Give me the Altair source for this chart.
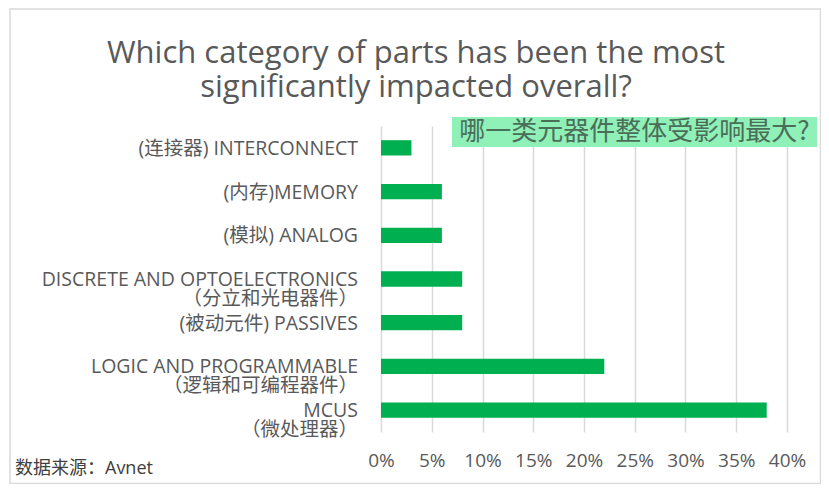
import altair as alt
import pandas as pd

# ---- data -------------------------------------------------------------
CATEGORIES_LINE1 = [
    "(连接器) INTERCONNECT",
    "(内存)MEMORY",
    "(模拟) ANALOG",
    "DISCRETE AND OPTOELECTRONICS",
    "(被动元件) PASSIVES",
    "LOGIC AND PROGRAMMABLE",
    "MCUS",
]
CATEGORIES_LINE2 = ["", "", "", "（分立和光电器件）", "", "（逻辑和可编程器件）", "（微处理器）"]
VALUES = [0.03, 0.06, 0.06, 0.08, 0.08, 0.22, 0.38]
X_TICKS = [0, 0.05, 0.10, 0.15, 0.20, 0.25, 0.30, 0.35, 0.40]
TITLE_LINES = ["Which category of parts has been the most", "significantly impacted overall?"]
ANNOTATION = "哪一类元器件整体受影响最大?"
SOURCE = "数据来源：Avnet"

FONT = "'Open Sans', 'Noto Sans CJK SC', sans-serif"
CJK_FONT = "'Noto Sans CJK SC', sans-serif"
GREY = "#595959"

labels = [[a, b] if b else [a] for a, b in zip(CATEGORIES_LINE1, CATEGORIES_LINE2)]
df = pd.DataFrame({"cat": CATEGORIES_LINE1, "label": labels, "value": VALUES})
one = pd.DataFrame({"title": [TITLE_LINES], "note": [ANNOTATION], "source": [SOURCE]})

y_enc = alt.Y(
    "cat:N",
    sort=CATEGORIES_LINE1,
    axis=None,
    scale=alt.Scale(paddingInner=0.65, paddingOuter=0.325),
)

base = alt.Chart(df)

bars = base.mark_bar(color="#00b050").encode(
    x=alt.X(
        "value:Q",
        scale=alt.Scale(domain=[0, 0.4], nice=False),
        axis=alt.Axis(
            values=X_TICKS,
            format=".0%",
            title=None,
            domain=False,
            ticks=False,
            grid=True,
            gridColor="#d9d9d9",
            gridWidth=1.5,
            labelFontSize=19,
            labelColor=GREY,
            labelFont=FONT,
            labelPadding=19,
            labelFlush=False,
            labelOverlap=False,
        ),
    ),
    y=y_enc,
)

cat_labels = base.mark_text(
    align="right", baseline="alphabetic", fontSize=19.5, lineHeight=19,
    color=GREY, font=FONT, dy=7
).encode(x=alt.value(-23), y=y_enc, text="label")

ann = alt.Chart(one)

border = ann.mark_rect(fillOpacity=0, stroke="#d9d9d9", strokeWidth=1.5).encode(
    x=alt.value(-371), x2=alt.value(439.5), y=alt.value(-117), y2=alt.value(357.5)
)

note_box = ann.mark_rect(color="#8ff0b8").encode(
    x=alt.value(71), x2=alt.value(436), y=alt.value(-9), y2=alt.value(21)
)

note_text = ann.mark_text(
    align="center", baseline="middle", fontSize=26, color="#4a6e58", font=CJK_FONT
).encode(x=alt.value(253.5), y=alt.value(6), text="note:N")

title = ann.mark_text(
    align="center", baseline="alphabetic", fontSize=31, color=GREY, font=FONT, lineHeight=34
).encode(x=alt.value(35), y=alt.value(-63), text="title")

source = ann.mark_text(
    align="left", baseline="middle", fontSize=18, color="#404040", font=FONT
).encode(x=alt.value(-366), y=alt.value(343), text="source:N")

chart = (
    alt.layer(border, bars, cat_labels, note_box, note_text, title, source)
    .properties(
        width=406,
        height=306,
        autosize=alt.AutoSizeParams(type="none"),
        padding={"left": 373, "top": 118, "right": 34, "bottom": 52},
        background="white",
    )
    .configure_view(strokeWidth=0)
)

chart.save("out.html", embed_options={"renderer": "svg", "actions": False})
